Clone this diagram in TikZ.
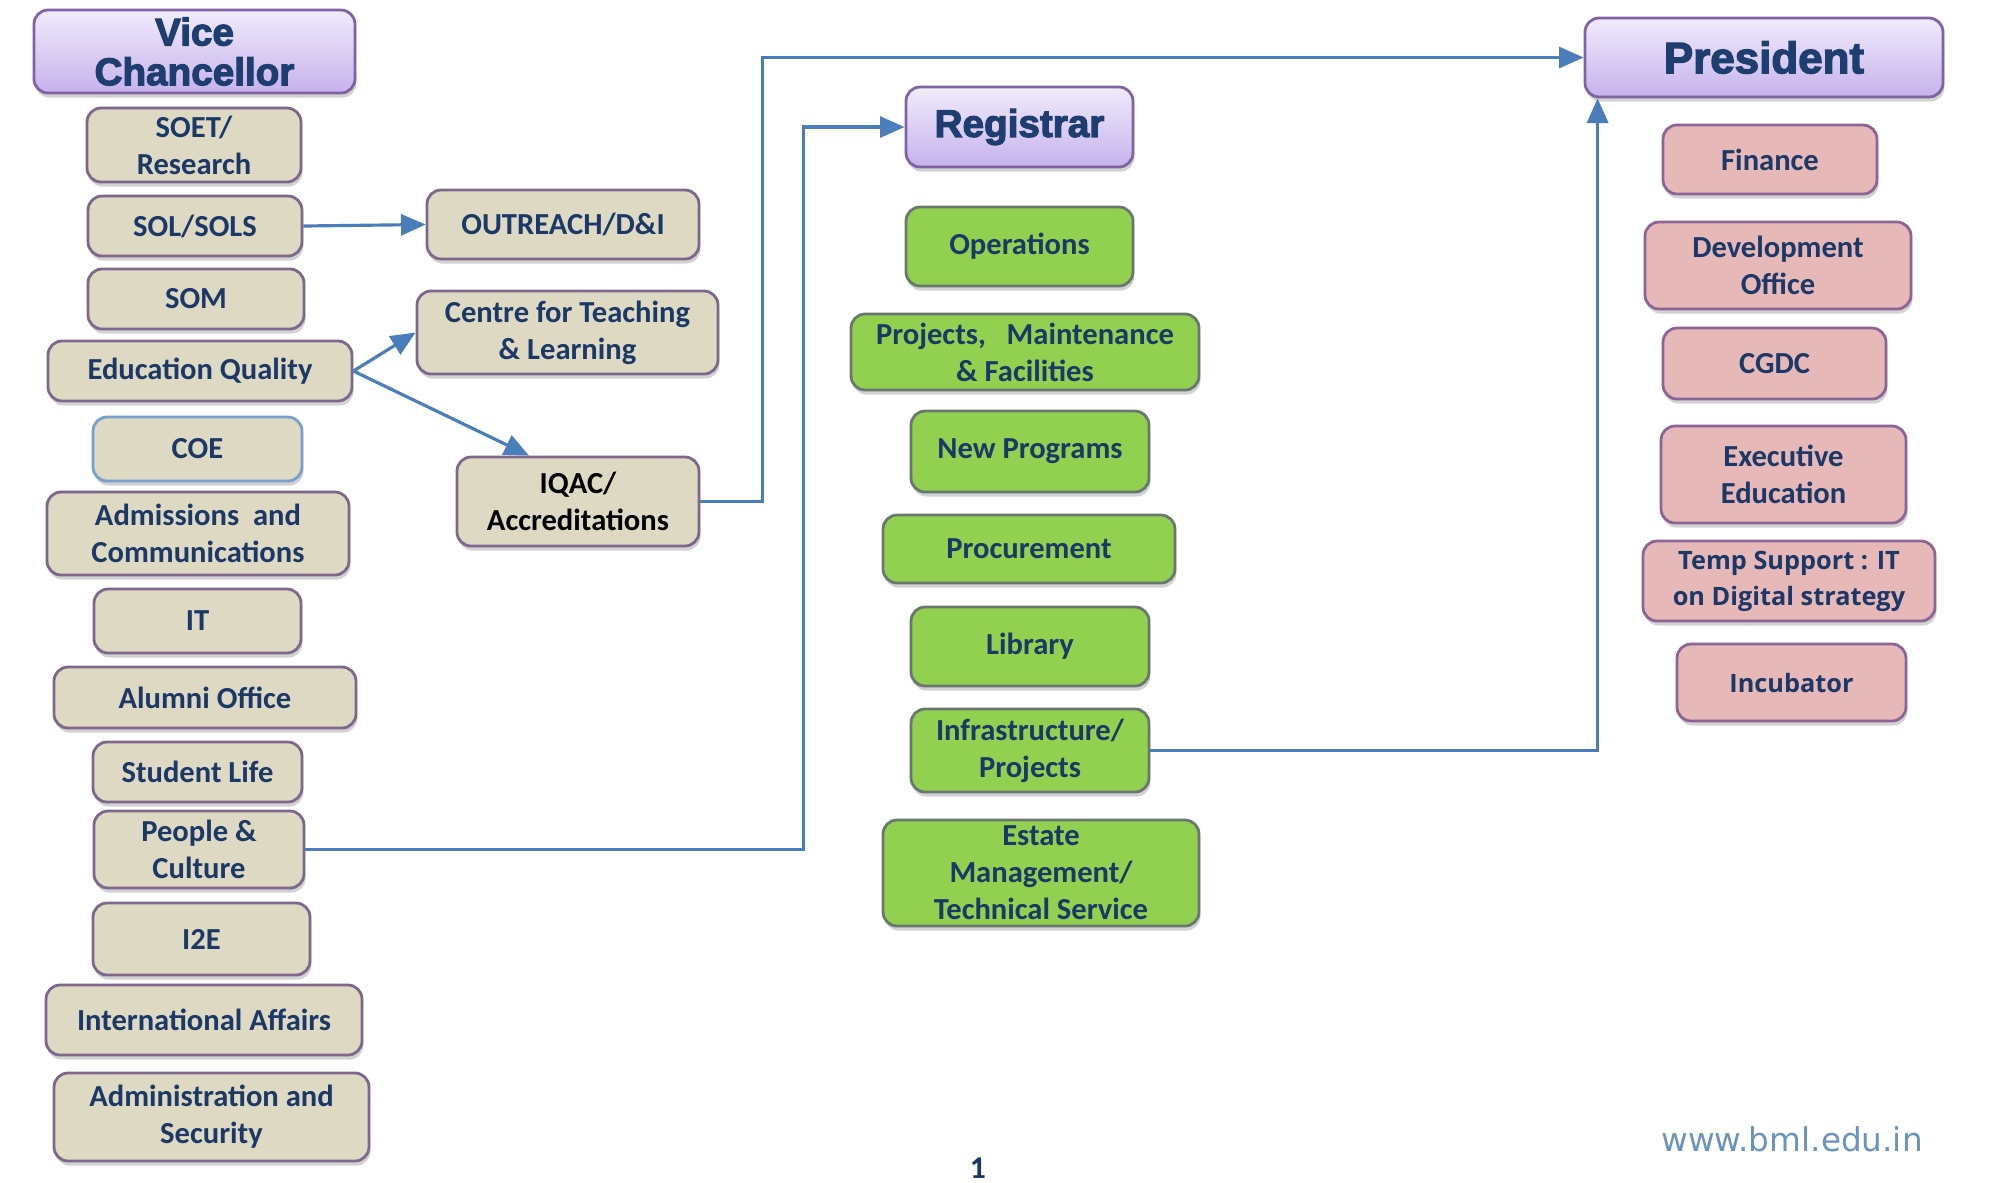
\documentclass[tikz,border=0pt]{standalone}
\usepackage{fontspec}
\setmainfont{Carlito}
\newfontfamily\headfont{Liberation Sans Bold}[FakeBold=3]
\newfontfamily\osans{Open Sans}
\newfontfamily\webfont{DejaVu Sans}
\usetikzlibrary{arrows.meta,shadows,calc}
\definecolor{navy}{RGB}{28,56,102}
\definecolor{headtxt}{RGB}{30,62,112}
\definecolor{beige}{RGB}{221,217,195}
\definecolor{beigeb}{RGB}{125,104,140}
\definecolor{coeb}{RGB}{120,160,205}
\definecolor{grn}{RGB}{146,208,80}
\definecolor{grnb}{RGB}{105,120,110}
\definecolor{pink}{RGB}{230,185,184}
\definecolor{pinkb}{RGB}{140,100,150}
\definecolor{headtop}{RGB}{240,235,252}
\definecolor{headbot}{RGB}{198,178,236}
\definecolor{headb}{RGB}{128,100,162}
\definecolor{arrowc}{RGB}{74,126,187}
\definecolor{webc}{RGB}{105,148,192}
\tikzset{
  bx/.style={rounded corners=4pt, line width=0.8pt, align=center, inner sep=0pt,
    text=navy, font=\bfseries\fontsize{8.7}{10.5}\selectfont,
    drop shadow={shadow xshift=0.4pt, shadow yshift=-1.3pt, opacity=0.35}},
  sz/.style 2 args={minimum width=#1cm, minimum height=#2cm},
  beigebox/.style={bx, fill=beige, draw=beigeb},
  greenbox/.style={bx, fill=grn, draw=grnb},
  pinkbox/.style={bx, fill=pink, draw=pinkb},
  osbox/.style={font=\osans\bfseries\fontsize{7.2}{10.3}\selectfont},
  headbox/.style={bx, top color=headtop, bottom color=headbot, draw=headb,
    text=headtxt, font=\headfont\fontsize{11}{11.3}\selectfont},
  conn/.style={draw=arrowc, line width=0.9pt, -{Triangle[width=6pt,length=7pt]}}
}
\begin{document}
\begin{tikzpicture}
\useasboundingbox (0,0) rectangle (20,-11.82);
\fill[white] (0,0) rectangle (20,-11.82);

% left column
\node[headbox, sz={3.21}{0.83}] (vc) at (1.945,-0.515) {Vice\\Chancellor};
\node[beigebox, sz={2.14}{0.74}] (soet) at (1.94,-1.45) {SOET/\\Research};
\node[beigebox, sz={2.14}{0.60}] (sol) at (1.95,-2.26) {SOL/SOLS};
\node[beigebox, sz={2.16}{0.60}] (som) at (1.96,-2.99) {SOM};
\node[beigebox, sz={3.04}{0.60}] (eq) at (2.00,-3.71) {Education Quality};
\node[beigebox, draw=coeb, sz={2.09}{0.64}] (coe) at (1.975,-4.49) {COE};
\node[beigebox, sz={3.02}{0.83}] (adm) at (1.98,-5.335) {Admissions\ \ and\\Communications};
\node[beigebox, sz={2.07}{0.64}] (it) at (1.975,-6.21) {IT};
\node[beigebox, sz={3.02}{0.61}] (alumni) at (2.05,-6.975) {Alumni Office};
\node[beigebox, sz={2.09}{0.60}] (student) at (1.975,-7.72) {Student Life};
\node[beigebox, sz={2.10}{0.77}] (people) at (1.99,-8.495) {People \&\\Culture};
\node[beigebox, sz={2.17}{0.72}] (i2e) at (2.015,-9.39) {I2E};
\node[beigebox, sz={3.16}{0.70}] (intl) at (2.04,-10.20) {International Affairs};
\node[beigebox, sz={3.15}{0.88}] (admin) at (2.115,-11.17) {Administration and\\Security};

% middle-left
\node[beigebox, sz={2.72}{0.69}] (outreach) at (5.63,-2.245) {OUTREACH/D\&I};
\node[beigebox, sz={3.01}{0.83}] (ctl) at (5.675,-3.325) {Centre for Teaching\\\& Learning};
\node[beigebox, text=black, sz={2.42}{0.89}] (iqac) at (5.78,-5.015) {IQAC/\\Accreditations};

% middle column
\node[headbox, sz={2.27}{0.80}] (reg) at (10.195,-1.27) {Registrar};
\node[greenbox, sz={2.27}{0.79}] (ops) at (10.195,-2.465) {Operations};
\node[greenbox, sz={3.48}{0.76}] (pmf) at (10.25,-3.52) {Projects,\ \ \ Maintenance\\\& Facilities};
\node[greenbox, sz={2.38}{0.81}] (newp) at (10.30,-4.515) {New Programs};
\node[greenbox, sz={2.92}{0.68}] (proc) at (10.29,-5.49) {Procurement};
\node[greenbox, sz={2.38}{0.79}] (lib) at (10.30,-6.465) {Library};
\node[greenbox, sz={2.38}{0.83}] (infra) at (10.30,-7.505) {Infrastructure/\\Projects};
\node[greenbox, sz={3.16}{1.06}] (estate) at (10.41,-8.73) {Estate\\Management/\\Technical Service};

% right column
\node[headbox, sz={3.58}{0.79}, font=\headfont\fontsize{12.5}{13}\selectfont] (pres) at (17.64,-0.575) {President};
\node[pinkbox, sz={2.14}{0.69}] (fin) at (17.70,-1.595) {Finance};
\node[pinkbox, sz={2.66}{0.87}] (dev) at (17.78,-2.655) {Development\\Office};
\node[pinkbox, sz={2.23}{0.71}] (cgdc) at (17.745,-3.635) {CGDC};
\node[pinkbox, sz={2.45}{0.97}] (exec) at (17.835,-4.745) {Executive\\Education};
\node[pinkbox, osbox, sz={2.92}{0.80}] (temp) at (17.89,-5.81) {Temp Support : IT\\on Digital strategy};
\node[pinkbox, osbox, sz={2.29}{0.77}] (incub) at (17.915,-6.825) {Incubator};

% footer
\node[text=navy, font=\bfseries\fontsize{9}{10}\selectfont] (pg) at (9.78,-11.68) {1};
\node[text=webc, font=\webfont\fontsize{9.3}{11}\selectfont] (web) at (17.92,-11.39) {www.bml.edu.in};

% connectors
\draw[conn] (sol.east) -- (outreach.west);
\draw[conn] (eq.east) -- (ctl.west);
\draw[conn] (eq.east) -- ($(iqac.north)+(-0.49,0)$);
\draw[conn] (iqac.east) -- ++(0.62,0) |- (pres.west);
\draw[conn] (people.east) -- ++(4.98,0) |- (reg.west);
\draw[conn] (infra.east) -| ($(pres.south west)+(0.14,0)$);
\end{tikzpicture}
\end{document}
